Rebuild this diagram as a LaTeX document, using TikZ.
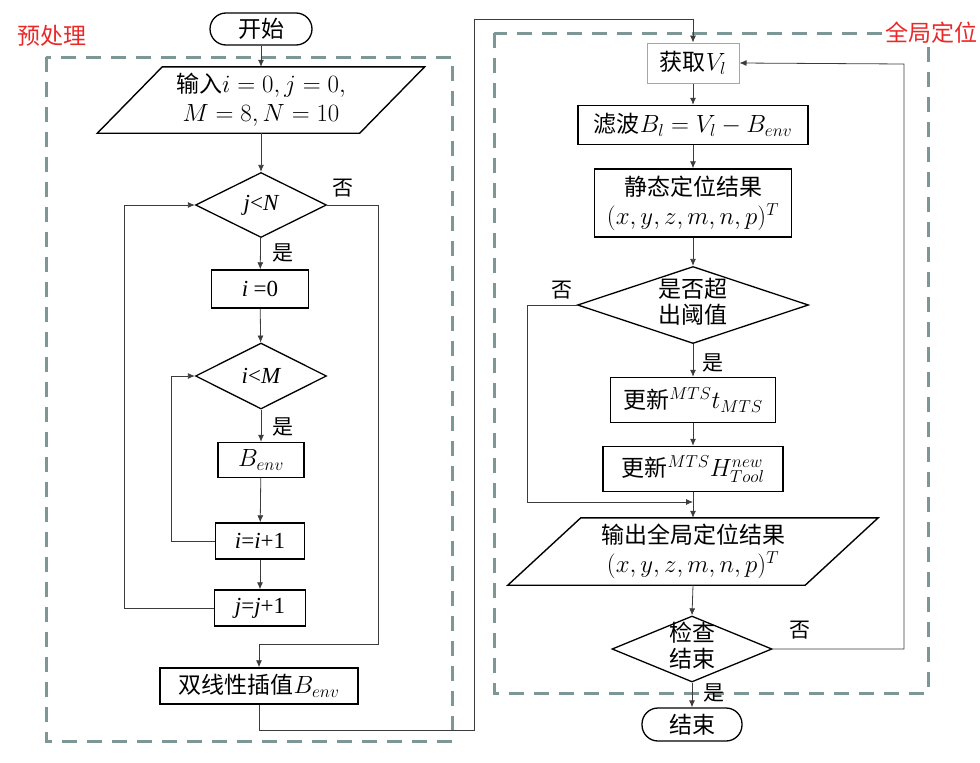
\documentclass[tikz,border=0pt]{standalone}
\usepackage{fontspec}
\setmainfont{Liberation Serif}
\newfontfamily\cjk{Noto Sans CJK SC}
\usetikzlibrary{shapes.geometric,arrows.meta}
\definecolor{dashc}{RGB}{125,150,150}
\definecolor{redc}{RGB}{235,40,40}
\definecolor{linec}{RGB}{60,60,60}
\newcommand\tm[1]{{\rmfamily\itshape #1}}
\begin{document}
\begin{tikzpicture}[x=1pt,y=-1pt,
  every node/.style={font=\cjk\fontsize{23}{29}\selectfont},
  box/.style={draw, line width=1.4pt, inner sep=0pt, align=center},
  term/.style={draw, line width=1.3pt, rounded corners=16pt, inner sep=0pt},
  io/.style={inner sep=0pt, align=center},
  dia/.style={shape=diamond, draw, line width=1.3pt, inner sep=0pt},
  pline/.style={line width=1.4pt, line join=miter},
  conn/.style={draw=linec, line width=0.8pt, -{Latex[length=7pt,width=6pt]}},
  plain/.style={draw=linec, line width=0.8pt},
  region/.style={draw=dashc, line width=3pt, dash pattern=on 15pt off 10pt},
  lab/.style={font=\cjk\fontsize{21}{25}\selectfont, inner sep=0pt}]
\useasboundingbox (0,0) rectangle (980,763);
% dashed regions
\draw[region] (46,57) rectangle (452,741);
\draw[region] (494,33) rectangle (928,693);
\node[text=redc, inner sep=0pt] (pre) at (52,36) {预处理};
\node[text=redc, fill=white, anchor=west, inner sep=1pt] (glob) at (884,33) {全局定位};
% left column
\node[term, minimum width=102, minimum height=32] (start) at (261,29) {开始};
\node[io, minimum width=262, minimum height=66] (in) at (261,100) {输入$i=0,j=0,$\\$M=8,N=10$};
\draw[pline] ([xshift=32.5pt]in.north west) -- ([xshift=32.5pt]in.north east) -- ([xshift=-32.5pt]in.south east) -- ([xshift=-32.5pt]in.south west) -- cycle;
\node[dia, minimum width=131, minimum height=65, label={center:{\tm{j}{\rmfamily<}\tm{N}}}] (d1) at (261,205) {};
\node[box, minimum width=97, minimum height=38] (i0) at (260,289) {\tm{i} {\rmfamily =0}};
\node[dia, minimum width=131, minimum height=66, label={center:{\tm{i}{\rmfamily<}\tm{M}}}] (dM) at (261,376) {};
\node[box, minimum width=86, minimum height=35] (benv) at (261,460) {$B_{env}$};
\node[box, minimum width=89, minimum height=36] (ii) at (260,541) {\tm{i}{\rmfamily =}\tm{i}{\rmfamily +1}};
\node[box, minimum width=91, minimum height=36] (jj) at (260,608) {\tm{j}{\rmfamily =}\tm{j}{\rmfamily +1}};
\node[box, minimum width=198, minimum height=36] (bil) at (259,686) {双线性插值$B_{env}$};
\node[lab] (n1) at (343,188) {否};
\node[lab] (y1) at (283,253) {是};
\node[lab] (y2) at (283,427) {是};
% right column
\node[box, draw=gray!70, line width=1pt, minimum width=92, minimum height=40] (get) at (693,63) {获取$V_l$};
\node[box, minimum width=230, minimum height=39] (filt) at (693,125) {滤波$B_l=V_l-B_{env}$};
\node[box, minimum width=197, minimum height=68] (stat) at (693,203) {静态定位结果\\$(x,y,z,m,n,p)^T$};
\node[dia, minimum width=231, minimum height=77, label={center:{\begin{tabular}{@{}c@{}}是否超\\[-3pt]出阈值\end{tabular}}}] (d2) at (693,305) {};
\node[box, minimum width=165, minimum height=45] (upt) at (693,400) {更新${}^{MTS}t_{MTS}$};
\node[box, minimum width=180, minimum height=45] (uph) at (693,469) {更新${}^{MTS}H^{new}_{Tool}$};
\node[io, minimum width=297, minimum height=67] (out) at (693,551.5) {输出全局定位结果\\$(x,y,z,m,n,p)^T$};
\draw[pline] ([xshift=36.5pt]out.north west) -- ([xshift=36.5pt]out.north east) -- ([xshift=-36.5pt]out.south east) -- ([xshift=-36.5pt]out.south west) -- cycle;
\node[dia, minimum width=160, minimum height=66, label={center:{\begin{tabular}{@{}c@{}}检查\\[-3pt]结束\end{tabular}}}] (d3) at (692,649) {};
\node[term, minimum width=100, minimum height=33] (end) at (692,724.5) {结束};
\node[lab] (n2) at (562,290) {否};
\node[lab] (y3) at (713,363) {是};
\node[lab] (n3) at (800,630) {否};
\node[lab] (y4) at (714,693) {是};
\coordinate (j2) at (693,502);
% connectors left
\draw[conn] (start) -- (in);
\draw[conn] (in) -- (d1);
\draw[conn] (d1) -- (i0);
\draw[conn] (i0) -- (dM);
\draw[conn] (dM) -- (benv);
\draw[conn] (benv) -- (ii);
\draw[conn] (ii) -- (jj);
\draw[conn] (jj.west) -- (124,608) -- (124,205) -- (d1.west);
\draw[conn] (ii.west) -- (171,541) -- (171,376) -- (dM.west);
\draw[conn] (d1.east) -- (378,205) -- (378,644) -- (259,644) -- (bil.north);
\draw[conn] (bil.south) -- (259,730) -- (474,730) -- (474,19) -- (693,19) -- (get.north);
% connectors right
\draw[conn] (get) -- (filt);
\draw[conn] (filt) -- (stat);
\draw[conn] (stat) -- (d2);
\draw[conn] (d2) -- (upt);
\draw[conn] (upt) -- (uph);
\draw[conn] (uph) -- (out.north);
\draw[conn] (d2.west) -- (527,305) -- (527,502) -- (j2);
\draw[conn] (out.south) -- (d3.north);
\draw[conn] (d3) -- (end);
\draw[conn] (d3.east) -- (904,649) -- (904,64) -- (get.east);
\end{tikzpicture}
\end{document}
